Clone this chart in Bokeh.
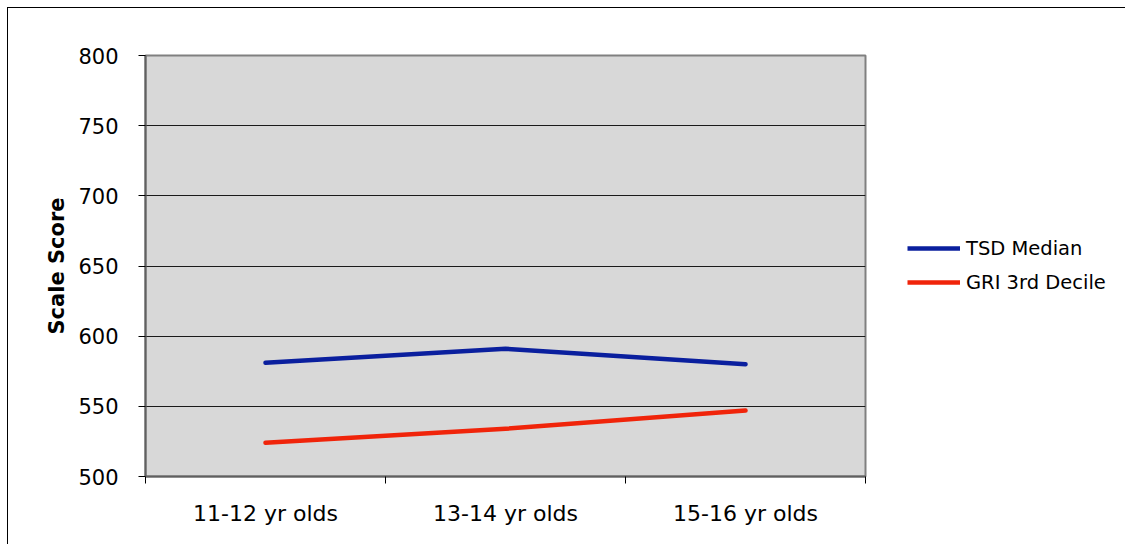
from bokeh.plotting import figure
from bokeh.layouts import row
from bokeh.models import FixedTicker, Legend, LegendItem, Range1d, Title
from bokeh.embed import file_html
from bokeh.resources import INLINE

# Age groups and the two score series
groups = ["11-12 yr olds", "13-14 yr olds", "15-16 yr olds"]
tsd_median = [581, 591, 580]
gri_3rd_decile = [524, 534, 547]
y_ticks = [500, 550, 600, 650, 700, 750, 800]
series_names = ["TSD Median", "GRI 3rd Decile"]
series_colors = ["#0a1f9e", "#f0240a"]

FONT = "DejaVu Sans"
xs = [i + 0.5 for i in range(len(groups))]

p = figure(
    width=872, height=536,
    output_backend="svg", toolbar_location=None,
    x_range=Range1d(0, len(groups)), y_range=Range1d(500, 800),
    min_border_left=137, min_border_top=47, min_border_right=15, min_border_bottom=68,
    background_fill_color="#d8d8d8", border_fill_color="white",
)

p.outline_line_color = "#808080"
p.outline_line_width = 2

# x axis: labels at category centres, tick marks at category boundaries
p.xaxis.ticker = FixedTicker(ticks=xs, minor_ticks=list(range(len(groups) + 1)))
p.xaxis.major_label_overrides = {x: g for x, g in zip(xs, groups)}
p.xaxis.major_tick_out = 0
p.xaxis.major_tick_in = 0
p.xaxis.minor_tick_out = 7
p.xaxis.minor_tick_in = 0
p.xaxis.minor_tick_line_color = "black"
p.xaxis.major_label_standoff = 17
p.xaxis.major_label_text_font_size = "22px"
p.xgrid.grid_line_color = None

p.yaxis.ticker = FixedTicker(ticks=y_ticks)
p.yaxis.major_tick_out = 7
p.yaxis.major_tick_in = 0
p.yaxis.minor_tick_line_color = None
p.yaxis.major_tick_line_color = "black"
p.yaxis.major_label_standoff = 20
p.yaxis.major_label_text_font_size = "21px"
p.ygrid.grid_line_color = "#1a1a1a"
p.ygrid.grid_line_width = 1

for ax in (p.xaxis, p.yaxis):
    ax.axis_line_color = "#606060"
    ax.axis_line_width = 2
    ax.major_label_text_font = FONT
    ax.major_label_text_color = "black"

# y-axis title, nudged slightly below the plot-area centre
p.add_layout(Title(
    text="Scale Score", align="center", offset=-8, standoff=13,
    text_font=FONT, text_font_size="21px", text_font_style="bold", text_color="black",
), "left")

p.line(xs, tsd_median, line_color=series_colors[0], line_width=4.5, line_cap="round", line_join="round")
p.line(xs, gri_3rd_decile, line_color=series_colors[1], line_width=4.5, line_cap="round", line_join="round")

# Legend lives in its own narrow panel to the right of the plot area;
# its key renderers hold a single NaN point so nothing is drawn in the panel itself
lp = figure(
    width=245, height=536, output_backend="svg", toolbar_location=None,
    x_axis_type=None, y_axis_type=None, min_border=0,
    x_range=Range1d(0, 1), y_range=Range1d(0, 1),
    outline_line_color=None, background_fill_color="white", border_fill_color="white",
)
lp.grid.grid_line_color = None
nan = float("nan")
keys = [lp.line([nan], [nan], line_color=c, line_width=4.5) for c in series_colors]
legend = Legend(
    items=[LegendItem(label=n, renderers=[k]) for n, k in zip(series_names, keys)],
    location=(27, 180),
    glyph_width=53, glyph_height=28, spacing=6, label_standoff=6,
    padding=0, margin=0,
    border_line_color=None, background_fill_alpha=0,
    label_text_font=FONT, label_text_font_size="19.5px", label_text_color="black",
)
lp.add_layout(legend, "center")

layout = row(p, lp, spacing=0)
layout.styles = {
    "margin-left": "7px", "margin-top": "7px",
    "border-left": "1px solid black", "border-top": "1px solid black",
}

open("out.html", "w").write(file_html(layout, INLINE))
